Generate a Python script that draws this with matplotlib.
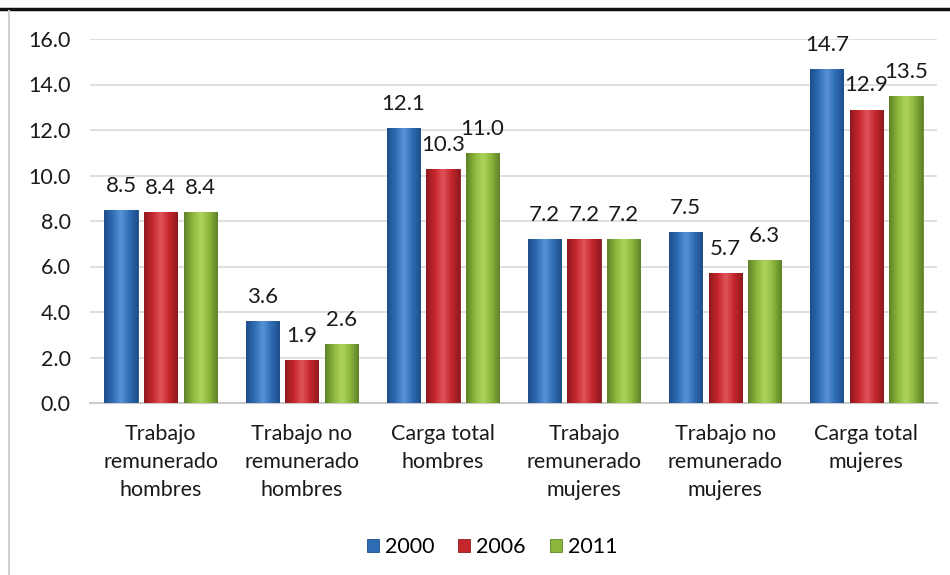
import numpy as np
import matplotlib
matplotlib.use("Agg")
import matplotlib.pyplot as plt
from matplotlib.colors import LinearSegmentedColormap
from matplotlib.patches import Rectangle
from matplotlib.lines import Line2D

# --------------------------------------------------------------
# DATA
# --------------------------------------------------------------
categorias = [
    "Trabajo\nremunerado\nhombres",
    "Trabajo no\nremunerado\nhombres",
    "Carga total\nhombres",
    "Trabajo\nremunerado\nmujeres",
    "Trabajo no\nremunerado\nmujeres",
    "Carga total\nmujeres",
]
anios = ["2000", "2006", "2011"]
v2000 = [8.5, 3.6, 12.1, 7.2, 7.5, 14.7]
v2006 = [8.4, 1.9, 10.3, 7.2, 5.7, 12.9]
v2011 = [8.4, 2.6, 11.0, 7.2, 6.3, 13.5]
yticks = [0, 2, 4, 6, 8, 10, 12, 14, 16]

colores = ["#2E6CB5", "#C4262C", "#8BB63C"]
oscuros = ["#1F4E8A", "#8E1A1F", "#5F8227"]
claros = ["#5A93D6", "#E0545A", "#AED45E"]

plt.rcParams["font.family"] = ["Lato", "DejaVu Sans"]

fig = plt.figure(figsize=(9.5, 5.75), dpi=100)
ax = fig.add_axes([90 / 950, 1 - 403 / 575, 847 / 950, 364 / 575])

x = np.arange(len(categorias))
ancho = 0.235
paso = 0.28
series = [v2000, v2006, v2011]

for i, vals in enumerate(series):
    pos = x + (i - 1) * paso
    bars = ax.bar(pos, vals, width=ancho, color=colores[i], edgecolor=oscuros[i],
                  linewidth=0.6, zorder=3)
    cmap = LinearSegmentedColormap.from_list(
        "g%d" % i, [oscuros[i], colores[i], claros[i], colores[i], oscuros[i]])
    grad = np.linspace(0, 1, 64).reshape(1, -1)
    for b in bars:
        bx, bw, bh = b.get_x(), b.get_width(), b.get_height()
        im = ax.imshow(grad, cmap=cmap, aspect="auto", zorder=3.5,
                       extent=[bx, bx + bw, 0, bh], interpolation="bicubic")
        im.set_clip_path(b)
    for xi, v in zip(pos, vals):
        ax.annotate(f"{v:.1f}", xy=(xi, v), xytext=(0, 13), textcoords="offset points",
                    ha="center", va="baseline", fontsize=16, color="#1a1a1a", zorder=5)

ax.set_xlim(-0.5, len(categorias) - 0.5)
ax.set_ylim(0, 16)
ax.set_yticks(yticks)
ax.set_yticklabels([f"{t:.1f}" for t in yticks])
ax.set_xticks(x)
ax.set_xticklabels(categorias, linespacing=1.5)
ax.tick_params(axis="both", length=0, labelsize=15.5, colors="#1a1a1a")
ax.tick_params(axis="y", pad=14)
ax.tick_params(axis="x", pad=15)
ax.yaxis.grid(True, color="#d9d9d9", linewidth=1.2, zorder=0)
ax.set_axisbelow(True)
for s in ["top", "right", "left"]:
    ax.spines[s].set_visible(False)
ax.spines["bottom"].set_color("#cccccc")
ax.spines["bottom"].set_linewidth(1.5)

handles = [Rectangle((0, 0), 1, 1, facecolor=c, edgecolor=o, linewidth=0.6)
           for c, o in zip(colores, oscuros)]
fig.legend(handles, anios, loc="center", bbox_to_anchor=(0.518, 1 - 547 / 575),
           ncol=3, frameon=False, fontsize=15.5, handlelength=0.55, handleheight=0.55,
           handletextpad=0.3, columnspacing=1.1)

# marco de la imagen
fig.add_artist(Line2D([0, 1], [1 - 9 / 575] * 2, color="#111111", linewidth=2.5,
                      transform=fig.transFigure))
fig.add_artist(Line2D([9 / 950] * 2, [0, 1 - 11 / 575], color="#cfcfcf", linewidth=1.5,
                      transform=fig.transFigure))

fig.savefig("out.png", dpi=100)
